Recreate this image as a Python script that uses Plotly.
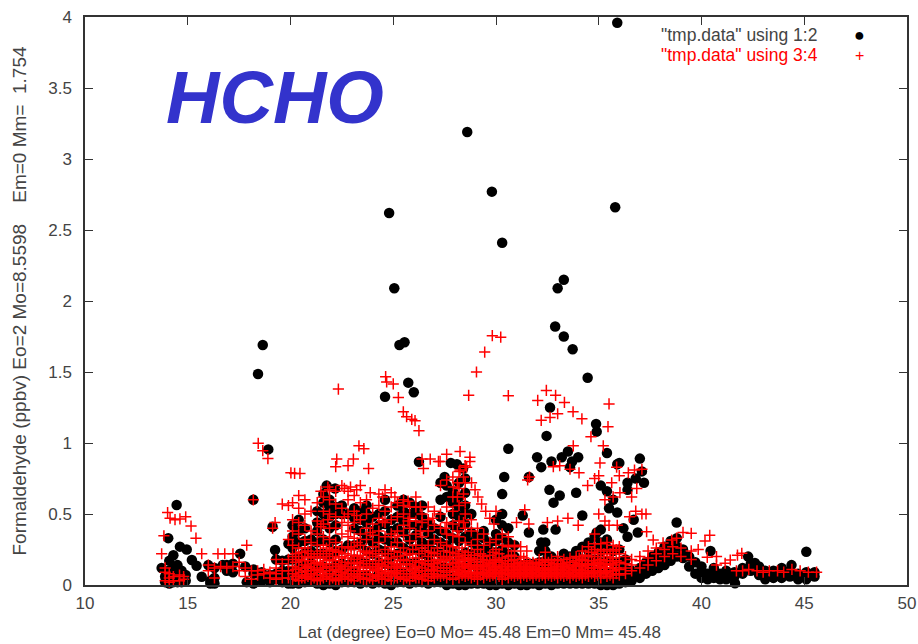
import plotly.graph_objects as go

black_outliers = [
 (35.9,3.96),(28.6,3.19),(29.8,2.77),(30.3,2.41),(24.8,2.62),(25.05,2.09),(35.8,2.66),(33.0,2.09),(33.3,2.15),
 (32.88,1.82),(33.3,1.75),(33.73,1.66),(34.46,1.46),(18.42,1.486),(18.65,1.69),(25.3,1.69),(25.55,1.71),(25.73,1.425),
 (26.0,1.357),(24.6,1.326),(18.92,0.955),(34.87,1.134),(34.9,1.08),(32.63,1.25),(32.46,1.05),(30.6,0.96),(18.19,0.6),
 (14.46,0.563),(14.05,0.33),(19.13,0.41),(19.25,0.247),(32.0,0.9),(32.2,0.83),(32.7,0.87),(33.2,0.9),(33.5,0.94),(34.0,0.9),
 (33.7,0.87),(33.6,0.83),(30.4,0.76),(31.6,0.76),(35.4,0.93),(35.9,0.85),(36.0,0.86),(37.0,0.89),(37.1,0.8),
 (36.8,0.75),(36.4,0.72),(37.2,0.72),(36.4,0.67),(32.6,0.67),(33.1,0.63),(32.8,0.58),(33.9,0.65),(30.3,0.64),
 (34.2,0.49),(31.3,0.49),(31.6,0.37),(32.9,0.39),(32.3,0.39),(32.2,0.3),(35.1,0.7),(35.4,0.66),(35.7,0.6),
 (35.5,0.54),(35.9,0.51),(36.7,0.46),(36.2,0.4),(36.4,0.34),(36.9,0.37),(35.1,0.39),(34.9,0.37),(26.25,0.868),
 (27.3,0.72),(27.5,0.76),(27.8,0.86),(28.1,0.85),(28.4,0.82),(27.6,0.7),(21.76,0.7),(22.17,0.68),
 (14.62,0.27),(14.95,0.25),(14.3,0.21),(14.5,0.14),(15.2,0.176),(15.43,0.136),(15.68,0.058),(13.73,0.12),
 (16.0,0.14),(16.7,0.14),(17.55,0.22),(17.8,0.13),(17.87,0.02),(38.79,0.44),(45.1,0.234),(40.44,0.24),(41.63,0.012),
 (42.27,0.2),(42.6,0.155),(44.38,0.14),
]

black_columns = [
 (13.9,[0.02,0.06]),(14.1,[0.01,0.05,0.1,0.17]),(14.3,[0.02,0.05,0.12]),(14.5,[0.02,0.06]),
 (14.7,[0.02,0.05,0.1]),(14.9,[0.03,0.07]),(16.1,[0.01,0.03]),(16.3,[0.01,0.12,0.05]),(16.9,[0.1,0.14]),(17.2,[0.09,0.15]),
 (18.2,[0.01,0.08,0.11]),(18.6,[0.03,0.05,0.09]),(19.0,[0.02,0.07]),
 (19.3,[0.04,0.08,0.18]),(19.6,[0.02,0.05,0.1,0.17]),(19.9,[0.01,0.05,0.1,0.18,0.29]),
 (20.1,[0.01,0.04,0.1,0.18,0.26,0.34,0.42]),(20.4,[0.01,0.05,0.12,0.2,0.3,0.38,0.46]),
 (20.7,[0.02,0.06,0.14,0.23,0.31,0.4]),(21.0,[0.03,0.08,0.16,0.24,0.32]),
 (21.3,[0.01,0.05,0.12,0.22,0.3,0.38,0.44,0.52]),(21.6,[0.0,0.04,0.13,0.22,0.32,0.43,0.5,0.58,0.64]),
 (21.9,[0.01,0.05,0.12,0.21,0.3,0.4,0.48,0.55,0.6]),(22.2,[0.0,0.06,0.14,0.24,0.32,0.42,0.5,0.55]),
 (22.5,[0.02,0.08,0.15,0.25,0.5,0.56]),(22.8,[0.02,0.06,0.14,0.28,0.5]),
 (23.1,[0.02,0.09,0.18,0.28,0.4,0.47,0.54]),(23.4,[0.01,0.06,0.17,0.29,0.38,0.46,0.52]),
 (23.7,[0.02,0.07,0.15,0.24,0.33,0.44,0.5,0.56]),(24.0,[0.01,0.05,0.14,0.22,0.3,0.38,0.48]),
 (24.3,[0.02,0.08,0.16,0.25,0.34,0.42,0.5]),(24.6,[0.01,0.06,0.15,0.24,0.32,0.43,0.52,0.6]),
 (24.9,[0.0,0.05,0.13,0.2,0.3,0.38,0.46]),(25.2,[0.02,0.07,0.12,0.22,0.3,0.4,0.48,0.56]),
 (25.5,[0.02,0.08,0.18,0.26,0.37,0.45,0.52,0.6]),(25.8,[0.01,0.06,0.15,0.24,0.32,0.42,0.5,0.58]),
 (26.1,[0.02,0.08,0.16,0.25,0.35,0.42,0.5,0.55]),(26.4,[0.02,0.07,0.14,0.22,0.3,0.41,0.48,0.56]),
 (26.7,[0.01,0.06,0.13,0.2,0.28,0.36,0.44]),(27.0,[0.02,0.08,0.15,0.24,0.32,0.4]),
 (27.3,[0.02,0.06,0.13,0.22,0.3,0.38,0.48,0.6]),(27.6,[0.0,0.05,0.12,0.2,0.28,0.36,0.62]),
 (27.9,[0.01,0.06,0.14,0.24,0.33,0.42,0.5,0.58,0.66]),(28.2,[0.0,0.04,0.12,0.2,0.31,0.4,0.48,0.55,0.62,0.72]),
 (28.5,[0.0,0.05,0.13,0.23,0.34,0.43,0.5,0.56,0.65,0.75]),(28.8,[0.01,0.05,0.14,0.22,0.3,0.37,0.5]),
 (29.1,[0.01,0.05,0.12,0.2,0.27,0.34]),(29.4,[0.01,0.06,0.13,0.2,0.25,0.33,0.38]),
 (29.7,[0.0,0.04,0.1,0.17,0.24,0.3]),(30.0,[0.0,0.03,0.09,0.16,0.23,0.31,0.36,0.46]),
 (30.3,[0.01,0.05,0.11,0.18,0.25,0.33,0.42,0.5]),(30.6,[0.0,0.03,0.09,0.15,0.22,0.3,0.4]),
 (30.9,[0.01,0.04,0.1,0.15,0.2,0.28]),(31.2,[0.0,0.03,0.08,0.14]),(31.5,[0.0,0.03,0.09,0.15]),
 (31.8,[0.01,0.04,0.1,0.15]),(32.1,[0.0,0.03,0.1,0.16,0.24]),(32.4,[0.01,0.04,0.1,0.17,0.24,0.3]),
 (32.7,[0.0,0.03,0.09,0.15,0.2]),(33.0,[0.01,0.05,0.1,0.16]),(33.3,[0.01,0.04,0.09,0.15,0.22]),
 (33.6,[0.01,0.04,0.1,0.16,0.2]),(33.9,[0.01,0.05,0.1,0.15,0.22,0.24]),(34.2,[0.01,0.04,0.1,0.18,0.27]),
 (34.5,[0.01,0.04,0.09,0.16,0.24,0.3]),(34.8,[0.01,0.03,0.1,0.18,0.26,0.34]),(35.1,[0.0,0.02,0.08,0.16,0.24,0.3]),
 (35.4,[0.0,0.03,0.09,0.17,0.26,0.32]),(35.7,[0.0,0.03,0.08,0.16,0.24]),(36.0,[0.01,0.03,0.09,0.16,0.25]),
 (36.3,[0.02,0.05,0.11,0.18]),(36.6,[0.03,0.06,0.1]),(37.0,[0.05,0.1,0.12]),(37.3,[0.08,0.12,0.16]),
 (37.6,[0.1,0.15,0.2]),(37.9,[0.12,0.18,0.23]),(38.2,[0.14,0.2,0.27]),(38.5,[0.17,0.24,0.31]),
 (38.8,[0.2,0.27,0.33]),(39.1,[0.19,0.25]),(39.4,[0.13,0.2]),(39.7,[0.08,0.16]),(40.0,[0.05,0.1,0.13]),
 (40.3,[0.04,0.08]),(40.6,[0.05,0.09,0.12]),(40.9,[0.04,0.08]),(41.2,[0.04,0.07,0.1]),(41.6,[0.06,0.09]),
 (42.0,[0.08,0.12]),(42.4,[0.1,0.15]),(42.8,[0.07,0.13]),(43.1,[0.04,0.1]),(43.5,[0.05,0.1]),
 (43.9,[0.05,0.09,0.12]),(44.3,[0.06,0.1]),(44.7,[0.04,0.08]),(45.1,[0.04,0.09]),(45.5,[0.06,0.09]),
]

red_outliers = [
 (22.33,1.38),(24.63,1.467),(24.68,1.43),(25.0,1.416),(25.25,1.32),(25.49,1.22),(25.65,1.185),(25.9,1.167),(26.06,1.157),
 (26.25,1.087),(18.43,0.998),(18.65,0.946),(18.9,0.89),(23.33,0.98),(23.57,0.96),(22.25,0.887),(23.06,0.887),(22.8,0.84),
 (22.2,0.833),(23.8,0.82),(26.4,0.887),(26.8,0.887),(27.2,0.87),(26.47,0.82),(20.02,0.79),(20.46,0.786),(20.2,0.786),
 (29.82,1.756),(30.23,1.745),(29.45,1.64),(29.05,1.5),(28.67,1.336),(30.6,1.333),(32.45,1.37),(32.03,1.3),(32.9,1.336),
 (33.33,1.286),(33.75,1.22),(34.18,1.17),(33.0,1.206),(32.63,1.18),(32.2,1.16),(35.5,1.275),(35.45,1.115),(34.62,1.044),
 (35.22,0.98),(33.76,0.98),(32.79,0.833),(33.1,0.84),(33.6,0.815),(34.04,0.79),(34.46,0.7),(34.8,0.75),(35.0,0.77),
 (31.54,0.74),(31.63,0.76),(35.87,0.83),(36.0,0.77),(36.44,0.79),(36.74,0.81),(37.1,0.815),(36.85,0.68),(36.6,0.62),
 (36.03,0.65),(35.63,0.72),(35.06,0.86),(28.25,0.81),(28.25,0.94),(27.6,0.92),(27.28,0.87),(28.73,0.9),(28.73,0.87),
 (28.57,0.83),(27.92,0.69),(28.81,0.72),(28.98,0.67),(29.12,0.62),(29.3,0.57),(29.5,0.52),(29.7,0.47),(29.9,0.43),
 (14.02,0.51),(14.14,0.47),(14.38,0.46),(14.62,0.465),(14.9,0.48),(15.16,0.415),(15.4,0.33),(13.84,0.347),(13.73,0.22),
 (15.68,0.22),(16.47,0.22),(16.8,0.22),(17.2,0.22),(17.87,0.28),(18.19,0.6),(19.25,0.44),(19.13,0.4),
 (39.1,0.37),(39.5,0.364),(40.4,0.35),(40.17,0.31),(39.84,0.25),(40.28,0.195),(40.73,0.2),(41.75,0.21),(41.96,0.223),
 (41.4,0.176),(41.15,0.153),(40.73,0.14),(37.33,0.375),(37.65,0.317),(38.13,0.296),(38.55,0.317),(38.79,0.33),
 (31.4,0.53),(31.6,0.43),(31.0,0.44),(30.0,0.52),(32.5,0.44),(33.0,0.45),(33.5,0.47),(34.0,0.42),(34.8,0.36),
 (35.0,0.5),(35.3,0.45),(35.5,0.42),(35.9,0.42),(36.8,0.52),(37.1,0.5),(37.3,0.5),(36.5,0.48),(35.3,0.6),(35.7,0.62),
]

red_columns = [
 (13.9,[0.03,0.09,0.12]),(14.1,[0.02,0.08,0.05]),(14.3,[0.03,0.06]),(14.6,[0.03,0.07]),(14.8,[0.04,0.06]),
 (16.0,[0.1,0.14]),(16.3,[0.05,0.12]),(16.6,[0.13]),(16.9,[0.12]),(17.2,[0.13]),(17.5,[0.1,0.16]),
 (17.8,[0.06,0.12]),(18.1,[0.04,0.1]),(18.4,[0.07,0.1]),(18.7,[0.08,0.11]),(19.0,[0.05,0.09]),
 (19.3,[0.04,0.08,0.12,0.18]),(19.6,[0.05,0.1,0.15,0.57]),(19.9,[0.05,0.1,0.18,0.32,0.56]),
 (20.1,[0.04,0.08,0.13,0.2,0.28,0.38,0.46,0.58]),(20.4,[0.03,0.07,0.12,0.18,0.26,0.36,0.44,0.54,0.63]),
 (20.7,[0.05,0.1,0.14,0.2,0.26,0.32,0.42,0.5,0.6]),(21.0,[0.04,0.08,0.12,0.17,0.22,0.3,0.38,0.52]),
 (21.3,[0.03,0.07,0.11,0.16,0.22,0.28,0.36,0.45,0.58]),(21.6,[0.05,0.1,0.15,0.2,0.28,0.34,0.43,0.52,0.62]),
 (21.9,[0.04,0.08,0.13,0.18,0.24,0.32,0.4,0.5,0.6,0.67]),(22.2,[0.03,0.07,0.11,0.17,0.24,0.3,0.4,0.48,0.57,0.66]),
 (22.5,[0.05,0.09,0.14,0.2,0.27,0.36,0.44,0.54,0.7]),(22.8,[0.04,0.08,0.13,0.19,0.26,0.34,0.42,0.5,0.6,0.66]),
 (23.1,[0.03,0.07,0.12,0.18,0.25,0.33,0.44,0.52,0.63]),(23.4,[0.05,0.1,0.15,0.21,0.28,0.36,0.46,0.58,0.7]),
 (23.7,[0.04,0.08,0.12,0.17,0.23,0.32,0.4,0.5,0.6]),(24.0,[0.03,0.07,0.13,0.2,0.27,0.35,0.43,0.54]),
 (24.3,[0.05,0.1,0.15,0.22,0.3,0.38,0.47,0.56,0.64]),(24.6,[0.04,0.08,0.13,0.18,0.25,0.34,0.44,0.52,0.67]),
 (24.9,[0.03,0.07,0.12,0.19,0.27,0.36,0.46,0.55,0.65]),(25.2,[0.05,0.1,0.14,0.2,0.3,0.38,0.48,0.58]),
 (25.5,[0.04,0.08,0.12,0.18,0.26,0.35,0.42,0.5,0.56,0.6]),(25.8,[0.03,0.08,0.14,0.22,0.31,0.4,0.47,0.55]),
 (26.1,[0.05,0.09,0.13,0.19,0.28,0.36,0.45,0.55,0.62]),(26.4,[0.04,0.07,0.12,0.17,0.26,0.34,0.44,0.5]),
 (26.7,[0.03,0.08,0.14,0.2,0.28,0.38,0.46,0.55]),(27.0,[0.05,0.1,0.15,0.22,0.32,0.42,0.52]),
 (27.3,[0.06,0.1,0.16,0.2,0.3,0.4,0.5,0.7]),(27.6,[0.05,0.09,0.14,0.19,0.28,0.36,0.44,0.55,0.74]),
 (27.9,[0.04,0.1,0.15,0.2,0.27,0.35,0.43,0.52,0.62,0.76]),(28.2,[0.05,0.09,0.13,0.18,0.26,0.34,0.45,0.56,0.68,0.8]),
 (28.5,[0.06,0.1,0.15,0.21,0.3,0.4,0.5,0.58,0.72,0.84]),(28.8,[0.05,0.09,0.14,0.19,0.28,0.38,0.46]),
 (29.1,[0.04,0.08,0.12,0.18,0.25,0.32,0.4]),(29.4,[0.05,0.09,0.14,0.2,0.28,0.36]),
 (29.7,[0.06,0.1,0.15,0.21,0.3]),(30.0,[0.05,0.09,0.13,0.18,0.25,0.32]),(30.3,[0.04,0.08,0.12,0.19,0.28,0.36]),
 (30.6,[0.05,0.1,0.15,0.2,0.27,0.34]),(30.9,[0.06,0.1,0.14,0.18,0.24,0.28]),(31.2,[0.05,0.09,0.12,0.16,0.2,0.27]),
 (31.5,[0.06,0.1,0.13,0.17,0.24]),(31.8,[0.05,0.09,0.12,0.16]),(32.1,[0.06,0.1,0.14,0.18]),(32.4,[0.05,0.09,0.12,0.17,0.23]),
 (32.7,[0.06,0.1,0.14,0.18]),(33.0,[0.05,0.09,0.13,0.17,0.2]),(33.3,[0.06,0.1,0.13,0.18]),(33.6,[0.05,0.09,0.14,0.19]),
 (33.9,[0.06,0.1,0.13,0.17,0.2]),(34.2,[0.05,0.09,0.14,0.18,0.24]),(34.5,[0.06,0.1,0.15,0.2,0.27]),
 (34.8,[0.06,0.1,0.14,0.2,0.25,0.29]),(35.1,[0.05,0.09,0.13,0.18,0.24,0.29]),(35.4,[0.06,0.1,0.15,0.2,0.25,0.3]),
 (35.7,[0.05,0.1,0.14,0.19,0.24,0.28]),(36.0,[0.07,0.11,0.16,0.22,0.27]),(36.3,[0.08,0.12,0.15,0.2]),
 (36.6,[0.1,0.14,0.18]),(37.0,[0.12,0.17,0.2]),(37.4,[0.14,0.19,0.24]),(37.8,[0.17,0.22,0.26]),
 (38.2,[0.2,0.25]),(38.6,[0.22,0.27]),(39.0,[0.2,0.26]),(39.5,[0.18,0.24]),(41.7,[0.1]),(42.0,[0.1]),(42.3,[0.11]),
 (42.7,[0.1]),(43.0,[0.09]),(43.3,[0.1]),(43.7,[0.1]),(44.0,[0.09]),(44.4,[0.11]),(44.8,[0.1]),(45.2,[0.09]),(45.6,[0.09]),
 (20.25,[0.06,0.11,0.16,0.22]),(20.55,[0.05,0.09,0.17,0.23]),(20.85,[0.06,0.13,0.19,0.24]),(21.15,[0.05,0.1,0.15,0.2]),
 (21.45,[0.04,0.09,0.14,0.19,0.24]),(21.75,[0.06,0.12,0.17,0.22,0.26]),(22.05,[0.05,0.1,0.15,0.2,0.25]),
 (22.35,[0.04,0.09,0.13,0.19,0.23]),(22.65,[0.06,0.11,0.16,0.22]),(22.95,[0.05,0.1,0.15,0.21,0.27]),
 (23.25,[0.06,0.1,0.16,0.2,0.3]),(23.55,[0.04,0.08,0.13,0.19,0.24]),(23.85,[0.05,0.1,0.15,0.22]),
 (24.15,[0.06,0.11,0.17,0.24]),(24.45,[0.04,0.09,0.14,0.2]),(24.75,[0.06,0.1,0.16,0.22]),(25.05,[0.05,0.09,0.15,0.24]),
 (25.35,[0.06,0.12,0.17,0.23]),(25.65,[0.05,0.1,0.15,0.21]),(25.95,[0.06,0.11,0.17,0.25]),(26.25,[0.05,0.1,0.16,0.22]),
 (26.55,[0.06,0.1,0.15,0.24]),(26.85,[0.06,0.11,0.17,0.23]),(27.15,[0.07,0.12,0.18,0.26]),(27.45,[0.07,0.12,0.17,0.24]),
 (27.75,[0.07,0.12,0.18,0.23]),(28.05,[0.07,0.11,0.16,0.22]),(28.35,[0.07,0.12,0.17,0.24]),(28.65,[0.07,0.12,0.17,0.23]),
 (28.95,[0.06,0.11,0.16,0.21]),(29.25,[0.07,0.11,0.16,0.22]),(29.55,[0.07,0.12,0.17]),(29.85,[0.07,0.11,0.16,0.23]),
 (30.15,[0.06,0.1,0.16,0.22]),(30.45,[0.07,0.11,0.17]),(30.75,[0.07,0.12,0.17,0.21]),(31.05,[0.07,0.11,0.15]),
 (31.35,[0.07,0.11,0.14,0.19]),(31.65,[0.07,0.11,0.15]),(31.95,[0.07,0.11,0.15]),(32.25,[0.07,0.12,0.16]),
 (32.55,[0.07,0.11,0.16]),(32.85,[0.07,0.11,0.15]),(33.15,[0.07,0.11,0.15]),(33.45,[0.07,0.12,0.16]),
 (33.75,[0.07,0.11,0.16]),(34.05,[0.07,0.11,0.15,0.19]),(34.35,[0.07,0.12,0.17,0.21]),(34.65,[0.08,0.12,0.17,0.23]),
 (34.95,[0.07,0.12,0.16,0.22]),(35.25,[0.08,0.12,0.17,0.22]),(35.55,[0.07,0.12,0.17,0.22]),(35.85,[0.08,0.12,0.17,0.25]),
 (28.15,[0.08,0.13,0.2]),(28.45,[0.09,0.14,0.19]),(28.75,[0.08,0.13,0.18]),(29.05,[0.09,0.14]),(29.35,[0.08,0.13,0.18]),
 (29.65,[0.09,0.14]),(29.95,[0.08,0.12,0.17]),(30.25,[0.09,0.14]),(30.55,[0.08,0.13]),(30.85,[0.09,0.13]),
 (31.15,[0.08,0.13]),(31.45,[0.09,0.12]),(31.75,[0.08,0.13]),(32.05,[0.09,0.12]),(32.35,[0.08,0.14]),(32.65,[0.09,0.12]),
 (32.95,[0.08,0.12]),(33.25,[0.09,0.14]),(33.55,[0.08,0.12]),(33.85,[0.09,0.14]),(34.15,[0.08,0.13]),(34.45,[0.09,0.14]),
 (34.75,[0.09,0.15]),(35.05,[0.1,0.15]),(35.35,[0.09,0.14]),(35.65,[0.1,0.15]),(20.75,[0.07,0.12]),(21.55,[0.07,0.12]),
 (22.45,[0.07,0.12]),(23.35,[0.08,0.13]),(24.25,[0.07,0.12]),(25.15,[0.08,0.13]),(26.05,[0.07,0.12]),(26.95,[0.08,0.13]),
 (21.48,[0.41,0.66]),(21.82,[0.46,0.69]),(22.62,[0.48,0.68]),(22.92,[0.38,0.69]),(23.22,[0.49,0.67]),
 (23.88,[0.37,0.65]),(24.48,[0.45,0.62]),(25.08,[0.34,0.62]),(25.72,[0.45,0.59]),(26.32,[0.38,0.55]),(26.92,[0.47]),
 (27.52,[0.4]),(28.12,[0.38,0.62,0.72]),(28.42,[0.44,0.64,0.76]),
]


def flatten(outliers, columns):
    xs = [p[0] for p in outliers]
    ys = [p[1] for p in outliers]
    for lat, values in columns:
        xs += [lat] * len(values)
        ys += values
    return xs, ys


bx, by = flatten(black_outliers, black_columns)
rx, ry = flatten(red_outliers, red_columns)

TEXT = "#444444"
FONT = "Liberation Sans"
fig = go.Figure()
fig.add_trace(go.Scatter(x=bx, y=by, mode="markers", cliponaxis=False, showlegend=False,
                         marker=dict(symbol="circle", size=10.5, color="black")))
fig.add_trace(go.Scatter(x=rx, y=ry, mode="markers", cliponaxis=False, showlegend=False,
                         marker=dict(symbol="cross-thin", size=8, color="rgba(0,0,0,0)",
                                     line=dict(color="#ff0000", width=1.5))))

axis = dict(showgrid=False, zeroline=False, showline=True, linecolor="#333333", linewidth=1.5,
            mirror="ticks", ticks="inside", ticklen=8, tickwidth=1.2, tickcolor="#333333", automargin=False,
            ticklabeloverflow="allow", tickfont=dict(family=FONT, size=17, color=TEXT))
fig.update_xaxes(range=[10, 50], tickmode="array", tickvals=list(range(10, 51, 5)), ticklabelstandoff=2, **axis)
fig.update_yaxes(range=[0, 4], tickmode="array", tickvals=[0, .5, 1, 1.5, 2, 2.5, 3, 3.5, 4],
                 ticktext=["0", "0.5", "1", "1.5", "2", "2.5", "3", "3.5", "4"], ticklabelstandoff=8,
                 title=dict(text="Formaldehyde (ppbv) Eo=2 Mo=8.5598\u00a0\u00a0\u00a0\u00a0Em=0 Mm=\u00a0\u00a01.754", standoff=17,
                            font=dict(family=FONT, size=19, color=TEXT)), **axis)


def note(text, px, py, size, color, anchor="left", **font):
    fig.add_annotation(text=text, xref="paper", yref="paper", showarrow=False, xanchor=anchor, yanchor="middle",
                       x=(px - 85) / 822, y=(585 - py) / 568,
                       font=dict(family=FONT, size=size, color=color, **font))


note("Lat (degree) Eo=0 Mo= 45.48 Em=0 Mm= 45.48", 479.5, 632, 17, TEXT, anchor="center")
note('"tmp.data" using 1:2', 659, 34.5, 17.5, TEXT)
note('"tmp.data" using 3:4', 659, 54.5, 17.5, "#ff0000")
note("●", 859, 34.5, 18, "black", anchor="center")
note("+", 859, 55.5, 16, "#ff0000", anchor="center")
note("HCHO", 164, 97, 74, "#3333cc", weight="bold", style="italic")

fig.update_layout(width=918, height=644, autosize=False, paper_bgcolor="white", plot_bgcolor="white",
                  margin=dict(l=85, r=11, t=17, b=59), showlegend=False)
fig.write_html("out.html", default_width="918px", default_height="644px", config={"displayModeBar": False},
               post_script="document.body.style.margin='0';document.body.style.overflow='hidden';")
